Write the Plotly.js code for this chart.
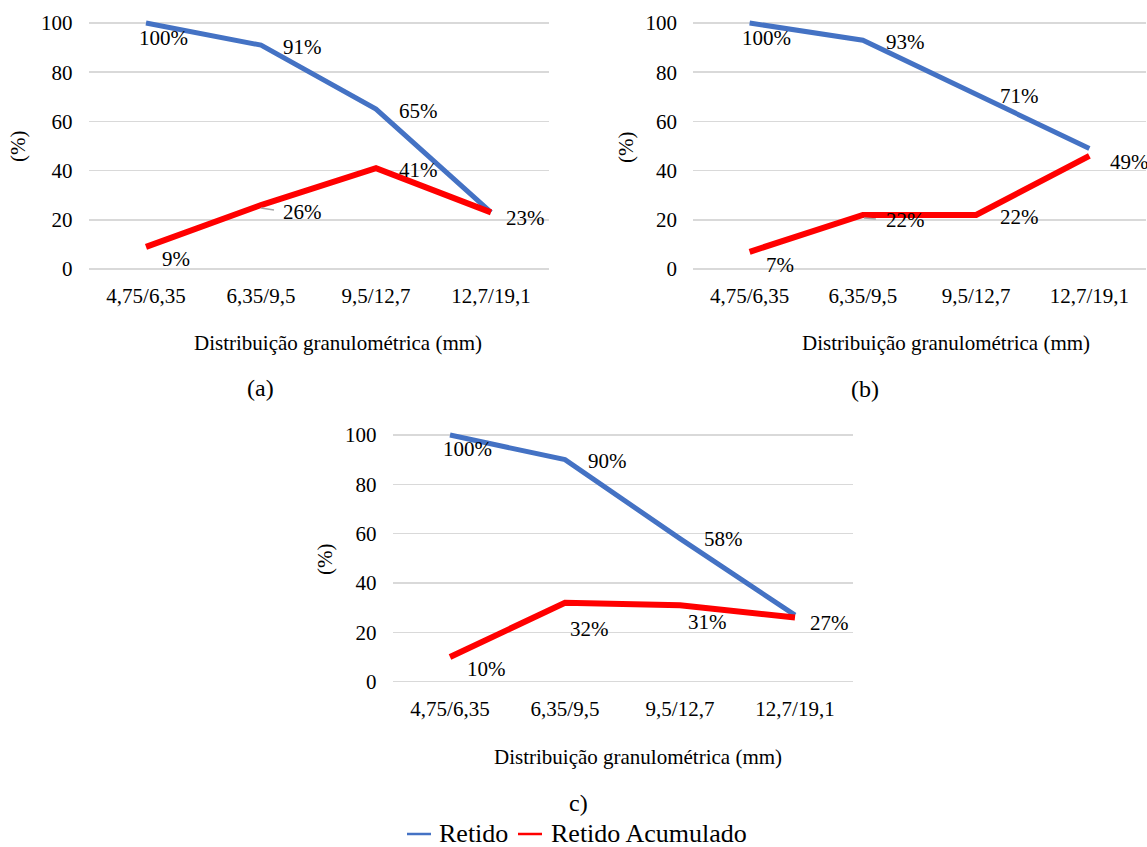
<!DOCTYPE html>
<html>
<head>
<meta charset="utf-8">
<script src="https://cdn.plot.ly/plotly-3.0.1.min.js"></script>
<style>
  html, body { margin: 0; padding: 0; background: #ffffff; }
  #chart { width: 1147px; height: 847px; }
</style>
</head>
<body>
<div id="chart"></div>
<script>
// Size classes of the aggregate (mm)
const categories = ['4,75/6,35', '6,35/9,5', '9,5/12,7', '12,7/19,1'];

// Panel (a)
const retidoA = [100, 91, 65, 23];
const acumuladoA = [9, 26, 41, 23];
// Panel (b)
const retidoB = [100, 93, 71, 49];
const acumuladoB = [7, 22, 22, 46];
// Panel (c)
const retidoC = [100, 90, 58, 27];
const acumuladoC = [10, 32, 31, 26];

const seriesNames = ['Retido', 'Retido Acumulado'];
const panelCaptions = ['(a)', '(b)', 'c)'];
const yTickValues = [0, 20, 40, 60, 80, 100];
const xTitleText = 'Distribuição granulométrica (mm)';
const yTitleText = '(%)';

const W = 1147, H = 847;
const FONT = 'Liberation Serif, Times New Roman, serif';
const BLUE = '#4472C4', RED = '#FF0000';
const px = v => v / W;
const py = v => 1 - v / H;

// Pixel frames of each panel: left/right of the category band, pixel rows of 0 and 100
const frames = [
  { left: 88.5, right: 548.5, y0: 269, y100: 23 },
  { left: 693, right: 1146, y0: 269, y100: 23 },
  { left: 392.5, right: 852.5, y0: 681.7, y100: 435 }
];
const Y_MIN = -2, Y_MAX = 102;

const panels = [
  { retido: retidoA, acum: acumuladoA },
  { retido: retidoB, acum: acumuladoB },
  { retido: retidoC, acum: acumuladoC }
];

// Data label placement per point: [anchor, dx, dy(down)]; null = no label
const labelPlacement = [
  {
    retido: [['center', 17, 15], ['left', 20, 2], ['left', 21, 2], ['left', 13, 6]],
    acum:   [['left', 14, 12], ['left', 20, 7], ['left', 21, 2], null]
  },
  {
    retido: [['center', 17, 15], ['left', 21, 2], ['left', 22, 2], ['left', 19, 14]],
    acum:   [['left', 14, 13], ['left', 21, 5], ['left', 22, 2], null]
  },
  {
    retido: [['center', 18, 14], ['left', 21, 1], ['left', 22, 0], ['left', 13, 8]],
    acum:   [['left', 15, 12], ['left', 3, 26], ['left', 6, 17], null]
  }
];
// Short grey leader lines next to displaced labels: [panel, series, index, dx0, dy0, dx1, dy1]
const leaders = [
  [0, 'acum', 1, 0, 3, 13, 5],
  [1, 'acum', 1, 1, 3, 13, 4]
];

const traces = [];
const layout = {
  width: W, height: H,
  margin: { l: 0, r: 0, t: 0, b: 0 },
  paper_bgcolor: '#ffffff',
  plot_bgcolor: 'rgba(0,0,0,0)',
  showlegend: false,
  font: { family: FONT, size: 21, color: '#000000' },
  annotations: [],
  shapes: []
};

panels.forEach((p, k) => {
  const f = frames[k];
  const unit = (f.y0 - f.y100) / 100;
  const top = f.y100 - (Y_MAX - 100) * unit;
  const bottom = f.y0 - Y_MIN * unit;
  const sfx = k === 0 ? '' : String(k + 1);
  const xa = 'x' + sfx, ya = 'y' + sfx;

  layout['xaxis' + sfx] = {
    domain: [px(f.left), px(f.right)],
    anchor: ya,
    type: 'category',
    range: [-0.5, 3.5],
    showgrid: false, zeroline: false, showline: false,
    ticks: '',
    ticklabelstandoff: 7,
    tickfont: { family: FONT, size: 21, color: '#000000' },
    fixedrange: true
  };
  layout['yaxis' + sfx] = {
    domain: [py(bottom), py(top)],
    anchor: xa,
    range: [Y_MIN, Y_MAX],
    tickvals: yTickValues,
    showgrid: true, gridcolor: '#D9D9D9', gridwidth: 1.5,
    zeroline: false, showline: false,
    ticks: '',
    ticklabelstandoff: 15,
    tickfont: { family: FONT, size: 21, color: '#000000' },
    fixedrange: true
  };

  traces.push({
    type: 'scatter', mode: 'lines', name: seriesNames[0],
    x: categories, y: p.retido, xaxis: xa, yaxis: ya,
    line: { color: BLUE, width: 5 }, hoverinfo: 'skip'
  });
  traces.push({
    type: 'scatter', mode: 'lines', name: seriesNames[1],
    x: categories, y: p.acum, xaxis: xa, yaxis: ya,
    line: { color: RED, width: 6 }, hoverinfo: 'skip'
  });

  ['retido', 'acum'].forEach(s => {
    p[s].forEach((v, i) => {
      const pl = labelPlacement[k][s][i];
      if (!pl) return;
      layout.annotations.push({
        xref: xa, yref: ya, x: i, y: v,
        text: v + '%', showarrow: false,
        xanchor: pl[0], yanchor: 'middle',
        xshift: pl[1], yshift: -pl[2],
        font: { family: FONT, size: 21, color: '#000000' }
      });
    });
  });

  // Axis titles and panel caption
  const titleX = [338, 946, 638][k];
  const titleY = [343, 343, 757][k];
  layout.annotations.push({
    xref: 'paper', yref: 'paper', x: px(titleX), y: py(titleY),
    text: xTitleText, showarrow: false, xanchor: 'center', yanchor: 'middle',
    font: { family: FONT, size: 21, color: '#000000' }
  });
  const yTitlePos = [[18, 147], [626, 148], [325, 560]][k];
  layout.annotations.push({
    xref: 'paper', yref: 'paper', x: px(yTitlePos[0]), y: py(yTitlePos[1]),
    text: yTitleText, showarrow: false, textangle: -90,
    xanchor: 'center', yanchor: 'middle',
    font: { family: FONT, size: 21, color: '#000000' }
  });
  const capPos = [[260, 388], [865, 389], [578, 803]][k];
  layout.annotations.push({
    xref: 'paper', yref: 'paper', x: px(capPos[0]), y: py(capPos[1]),
    text: panelCaptions[k], showarrow: false, xanchor: 'center', yanchor: 'middle',
    font: { family: FONT, size: 24, color: '#000000' }
  });
});

// Leader lines anchored to their data points
leaders.forEach(([k, s, i, dx0, dy0, dx1, dy1]) => {
  const sfx = k === 0 ? '' : String(k + 1);
  layout.shapes.push({
    type: 'line',
    xref: 'x' + sfx, yref: 'y' + sfx,
    xsizemode: 'pixel', ysizemode: 'pixel',
    xanchor: i, yanchor: panels[k][s][i],
    x0: dx0, x1: dx1, y0: -dy0, y1: -dy1,
    line: { color: '#A6A6A6', width: 1.5 }
  });
});

// Shared legend at the bottom
const legendY = 833;
const legendItems = [
  { color: BLUE, x0: 407, x1: 431, textX: 437, name: seriesNames[0] },
  { color: RED, x0: 518, x1: 542, textX: 549, name: seriesNames[1] }
];
legendItems.forEach(it => {
  layout.shapes.push({
    type: 'line', xref: 'paper', yref: 'paper',
    x0: px(it.x0), x1: px(it.x1), y0: py(legendY + 1), y1: py(legendY + 1),
    line: { color: it.color, width: 2.5 }
  });
  layout.annotations.push({
    xref: 'paper', yref: 'paper', x: px(it.textX), y: py(legendY),
    text: it.name, showarrow: false, xanchor: 'left', yanchor: 'middle',
    font: { family: FONT, size: 26, color: '#000000' }
  });
});

Plotly.newPlot('chart', traces, layout, { staticPlot: true, displayModeBar: false });
</script>
</body>
</html>
